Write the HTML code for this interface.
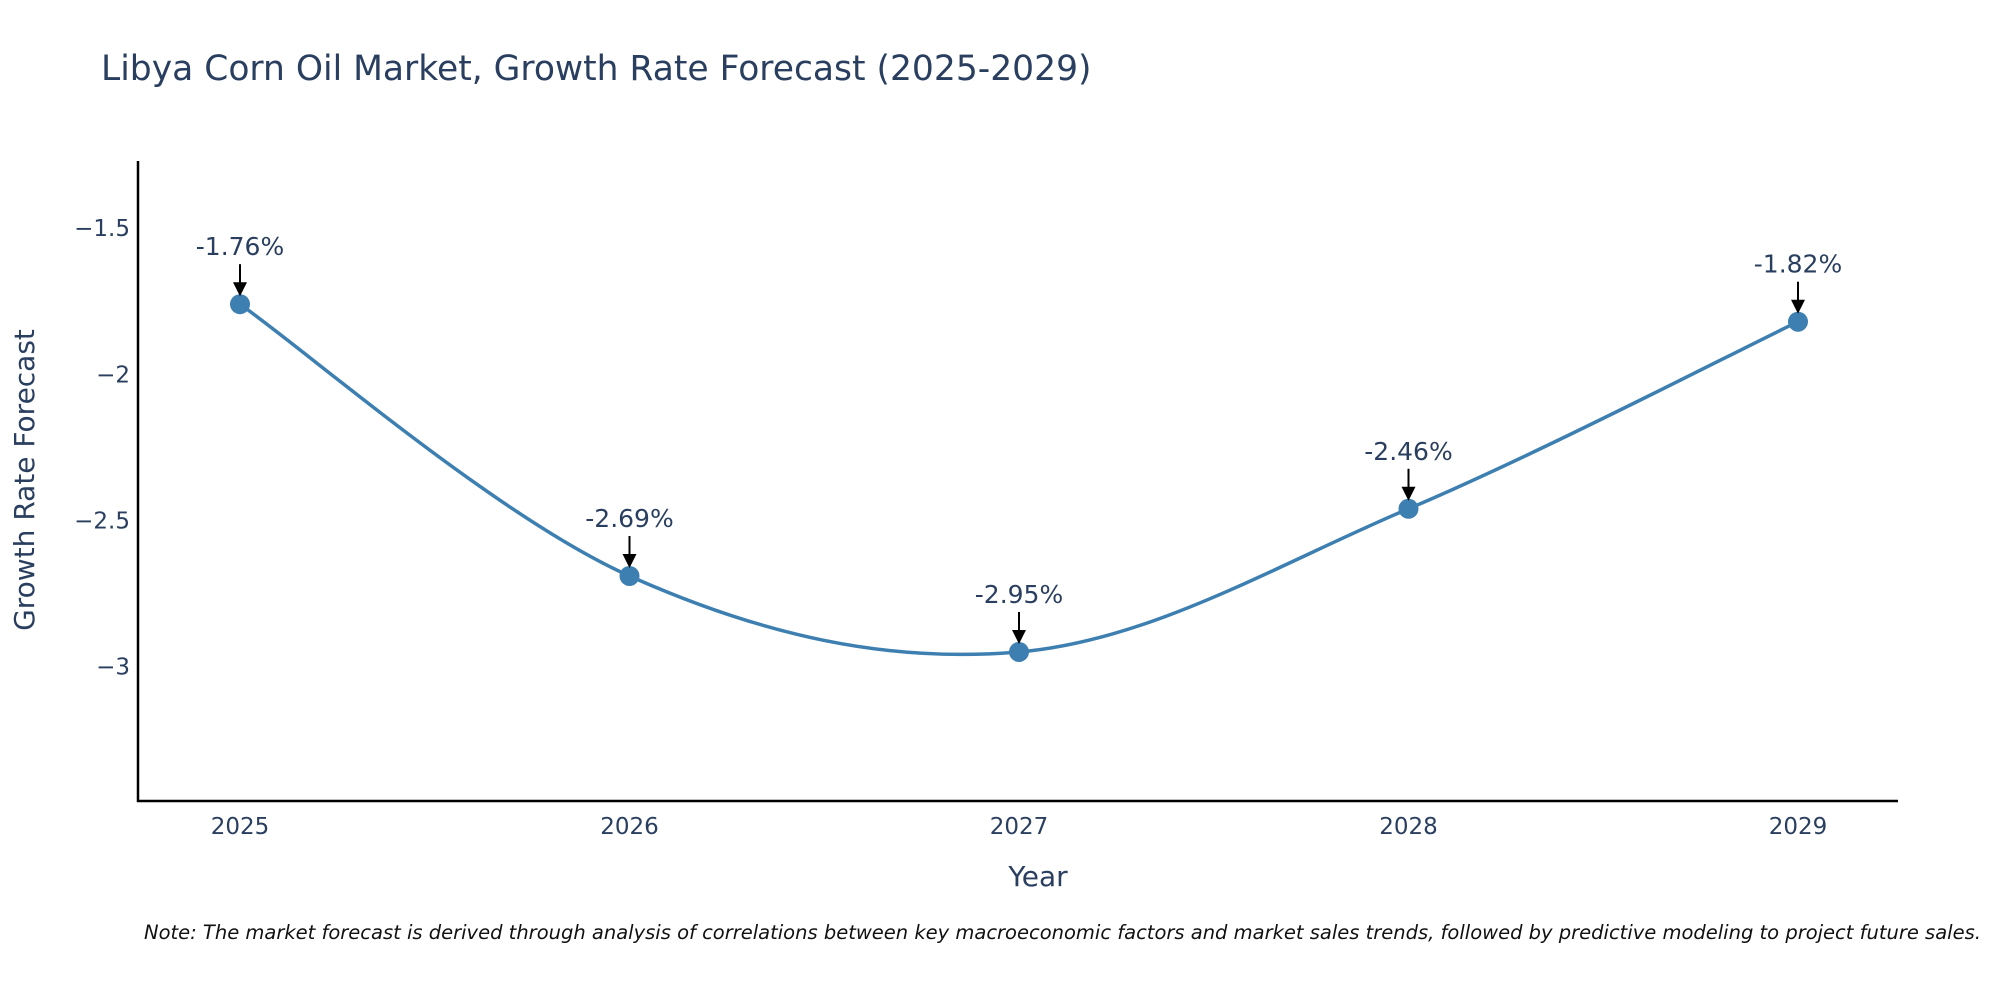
<!DOCTYPE html>
<html><head><meta charset="utf-8"><style>
body{margin:0;background:#fff;}
svg text{font-family:"DejaVu Sans","Liberation Sans",sans-serif;}
</style></head><body>
<svg id="chart" width="2000" height="1000" xmlns="http://www.w3.org/2000/svg">
<text x="101" y="80" font-size="34.5" fill="#2a3f5f">Libya Corn Oil Market, Growth Rate Forecast (2025-2029)</text>
<g id="axes"></g>
<g id="marks"></g>
<text x="1038" y="886" font-size="28" fill="#2a3f5f" text-anchor="middle">Year</text>
<text transform="translate(34,480) rotate(-90)" font-size="28" fill="#2a3f5f" text-anchor="middle">Growth Rate Forecast</text>
<text x="144" y="939" font-size="19.5" font-style="italic" fill="#111">Note: The market forecast is derived through analysis of correlations between key macroeconomic factors and market sales trends, followed by predictive modeling to project future sales.</text>
</svg>
<script>
const years=[2025,2026,2027,2028,2029];
const values=[-1.76,-2.69,-2.95,-2.46,-1.82];
const labels=["-1.76%","-2.69%","-2.95%","-2.46%","-1.82%"];
const yTicks=[-1.5,-2,-2.5,-3];
const yTickLabels=["\u22121.5","\u22122","\u22122.5","\u22123"];
const NS="http://www.w3.org/2000/svg";
const L=138,R=1898,T=161,B=801;
const yMin=-3.46,yMax=-1.27;
const xs=v=>240+(v-2025)*(1798-240)/4;
const ys=v=>B-(v-yMin)/(yMax-yMin)*(B-T);
function mk(tag,attrs,parent){const e=document.createElementNS(NS,tag);for(const k in attrs)e.setAttribute(k,attrs[k]);parent.appendChild(e);return e;}
const axes=document.getElementById('axes'),marks=document.getElementById('marks');
let a=mk('line',{x1:L,y1:T,x2:L,y2:B+1,stroke:'#000','stroke-width':2.5},axes);


a=mk('line',{x1:L-1,y1:B,x2:R,y2:B,stroke:'#000','stroke-width':2.5},axes);


yTicks.forEach((v,i)=>{const t=mk('text',{x:130,y:ys(v)+8,'font-size':23,fill:'#2a3f5f','text-anchor':'end'},axes);t.textContent=yTickLabels[i];

});
years.forEach(v=>{const t=mk('text',{x:xs(v),y:834,'font-size':23,fill:'#2a3f5f','text-anchor':'middle'},axes);t.textContent=v;

});
const P=years.map((y,i)=>[xs(y),ys(values[i])]);
let d='M'+P[0][0]+','+P[0][1];
const s=0.17;
for(let i=0;i<P.length-1;i++){const p0=P[i-1]||P[i],p1=P[i],p2=P[i+1],p3=P[i+2]||P[i+1];
d+=' C'+(p1[0]+(p2[0]-p0[0])*s)+','+(p1[1]+(p2[1]-p0[1])*s)+' '+(p2[0]-(p3[0]-p1[0])*s)+','+(p2[1]-(p3[1]-p1[1])*s)+' '+p2[0]+','+p2[1];}
const line=mk('path',{d:d,fill:'none',stroke:'#3d7fb0','stroke-width':3.5},marks);


P.forEach((p,i)=>{
const c=mk('circle',{cx:p[0],cy:p[1],r:10,fill:'#3d7fb0'},marks);


const l=mk('line',{x1:p[0],y1:p[1]-40,x2:p[0],y2:p[1]-20,stroke:'#000','stroke-width':2},marks);


const h=mk('polygon',{points:(p[0]-7)+','+(p[1]-22)+' '+(p[0]+7)+','+(p[1]-22)+' '+p[0]+','+(p[1]-8),fill:'#000'},marks);


const t=mk('text',{x:p[0],y:p[1]-49,'font-size':25,fill:'#2a3f5f','text-anchor':'middle'},marks);t.textContent=labels[i];


});
</script>
</body></html>
